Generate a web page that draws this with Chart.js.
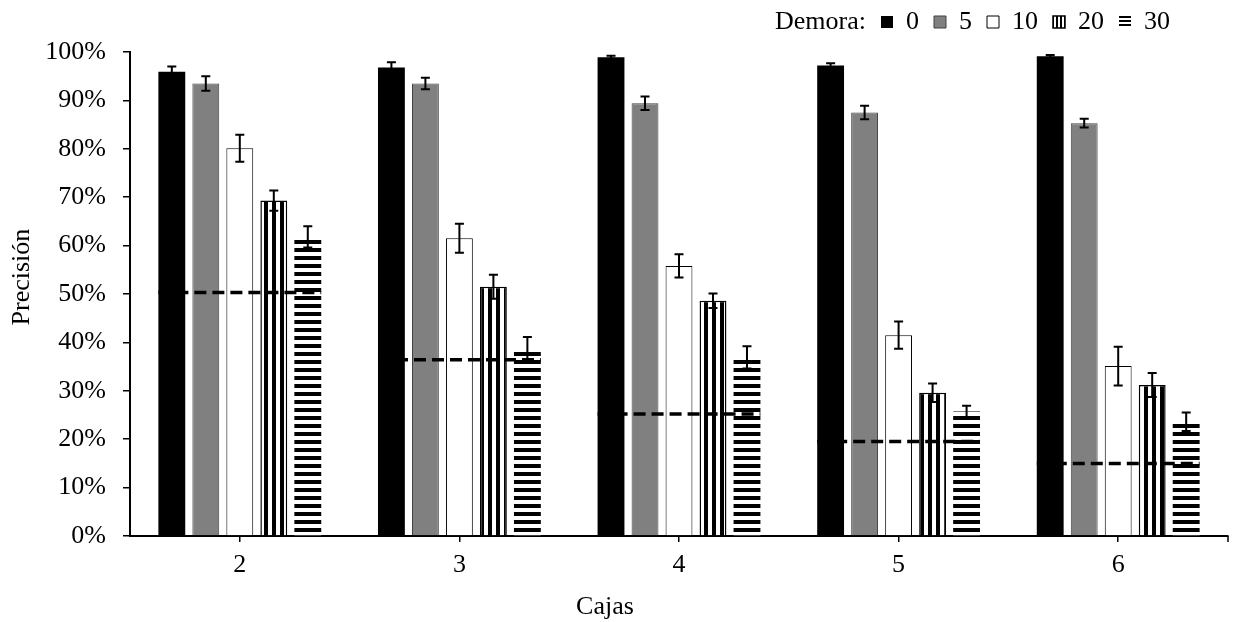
<!DOCTYPE html>
<html lang="es">
<head>
<meta charset="utf-8">
<title>Precisión por cajas y demora</title>
<script src="https://cdn.jsdelivr.net/npm/chart.js@4.4.1/dist/chart.umd.min.js"></script>
<style>
  html, body { margin: 0; padding: 0; background: #fff; }
</style>
</head>
<body>
<canvas id="myChart" width="1233" height="622"></canvas>
<script>
'use strict'

// Data (percent correct)
const cajas = ['2', '3', '4', '5', '6'];
const demoras = ['0', '5', '10', '20', '30'];
const yTicks = [0, 10, 20, 30, 40, 50, 60, 70, 80, 90, 100];

const prec0 = [95.9, 96.8, 98.9, 97.2, 99.1];
const prec5 = [93.5, 93.5, 89.4, 87.5, 85.3];
const prec10 = [80.1, 61.5, 55.8, 41.5, 35.1];
const prec20 = [69.3, 51.5, 48.6, 29.6, 31.2];
const prec30 = [61.8, 38.6, 36.9, 25.7, 23.6];

const err0 = [1.1, 1.1, 0.3, 0.5, 0.3];
const err5 = [1.5, 1.2, 1.4, 1.4, 0.9];
const err10 = [2.8, 3.0, 2.4, 2.8, 4.0];
const err20 = [2.1, 2.5, 1.5, 1.9, 2.5];
const err30 = [2.2, 2.5, 2.3, 1.2, 1.9];

// chance level (dashed line over each group)
const azar = [50.3, 36.4, 25.2, 19.5, 15.0];

const fontFamily = "'Liberation Serif', 'Times New Roman', serif";
const fontSize = 26;
Chart.defaults.color = '#000';
Chart.defaults.font.family = fontFamily;

// stripe fills
function makeStripes(vertical, period, ink) {
  const c = document.createElement('canvas');
  c.width = period;
  c.height = period;
  const ctx = c.getContext('2d');
  ctx.fillStyle = '#fff';
  ctx.fillRect(0, 0, period, period);
  ctx.fillStyle = '#000';
  if (vertical) {
    ctx.fillRect(0, 0, ink, period);
  } else {
    ctx.fillRect(0, 0, period, ink);
  }
  return ctx.createPattern(c, 'repeat');
}

const vStripes = makeStripes(true, 8, 4);
const hStripes = makeStripes(false, 8, 4);
const vStripesSmall = makeStripes(true, 4, 2);
const hStripesSmall = makeStripes(false, 4, 2);

function barSet(label, data, errs, fill, border, width) {
  return {
    label: label,
    data: data,
    errores: errs,
    backgroundColor: fill,
    borderColor: border,
    borderWidth: width,
    categoryPercentage: 0.774,
    barPercentage: 0.79
  };
}

const datasets = [
  barSet(demoras[0], prec0, err0, '#000000', '#000000', 0),
  barSet(demoras[1], prec5, err5, '#808080', '#404040', 1),
  barSet(demoras[2], prec10, err10, '#ffffff', '#000000', 1),
  barSet(demoras[3], prec20, err20, vStripes, '#000000', 1.5),
  barSet(demoras[4], prec30, err30, hStripes, '#000000', 0)
];

// dashed chance line across each group, then the error bars on top
const extras = {
  id: 'extras',
  afterDatasetsDraw(chart) {
    const ctx = chart.ctx;
    const y = chart.scales.y;
    const first = chart.getDatasetMeta(0).data;
    const last = chart.getDatasetMeta(demoras.length - 1).data;
    ctx.save();
    ctx.strokeStyle = '#000';

    ctx.lineWidth = 3.5;
    ctx.setLineDash([12, 6]);
    for (let i = 0; i < azar.length; i++) {
      const yy = y.getPixelForValue(azar[i]);
      ctx.beginPath();
      ctx.moveTo(first[i].x - first[i].width / 2, yy);
      ctx.lineTo(last[i].x + last[i].width / 2, yy);
      ctx.stroke();
    }
    ctx.setLineDash([]);

    ctx.lineWidth = 2;
    chart.data.datasets.forEach((ds, i) => {
      if (!ds.errores) return;
      const meta = chart.getDatasetMeta(i);
      meta.data.forEach((bar, j) => {
        const top = y.getPixelForValue(ds.data[j] + ds.errores[j]);
        const bot = y.getPixelForValue(ds.data[j] - ds.errores[j]);
        ctx.beginPath();
        ctx.moveTo(bar.x, top);
        ctx.lineTo(bar.x, bot);
        ctx.moveTo(bar.x - 4.5, top);
        ctx.lineTo(bar.x + 4.5, top);
        ctx.moveTo(bar.x - 4.5, bot);
        ctx.lineTo(bar.x + 4.5, bot);
        ctx.stroke();
      });
    });
    ctx.restore();
  },
  afterDraw(chart) {
    const ctx = chart.ctx;
    const x = chart.scales.x;
    const y = chart.scales.y;
    ctx.save();
    // closing tick at the right end of the category axis
    ctx.strokeStyle = '#000';
    ctx.lineWidth = 1.5;
    ctx.beginPath();
    ctx.moveTo(x.right, x.top);
    ctx.lineTo(x.right, x.top + 6);
    ctx.stroke();
    // axis titles, placed where the original has them
    ctx.fillStyle = '#000';
    ctx.font = fontSize + 'px ' + fontFamily;
    ctx.textAlign = 'center';
    ctx.textBaseline = 'middle';
    ctx.fillText('Cajas', x.left + x.width * 0.4326, 607);
    ctx.translate(22, y.top + y.height * 0.465);
    ctx.rotate(-Math.PI / 2);
    ctx.fillText('Precisión', 0, 0);
    ctx.restore();
  }
};

// legend up at the top right, like the original
const legendPlace = {
  id: 'legendPlace',
  afterLayout(chart) {
    chart.legend.top = -6;
    chart.legend.right = 1185;
  }
};

const config = {
  type: 'bar',
  data: {
    labels: cajas,
    datasets: datasets
  },
  options: {
    responsive: false,
    animation: false,
    layout: {
      padding: {left: 0, right: 5, top: 1, bottom: 0}
    },
    plugins: {
      tooltip: {enabled: false},
      legend: {
        position: 'top',
        align: 'end',
        labels: {
          boxWidth: 12,
          boxHeight: 12,
          padding: 15,
          color: '#000',
          font: {size: fontSize, family: fontFamily},
          generateLabels(chart) {
            let items = Chart.defaults.plugins.legend.labels.generateLabels(chart);
            items.forEach(it => {
              if (it.datasetIndex === 3) it.fillStyle = vStripesSmall;
              if (it.datasetIndex === 4) it.fillStyle = hStripesSmall;
            });
            items.unshift({
              text: 'Demora:',
              fillStyle: 'rgba(0,0,0,0)',
              strokeStyle: 'rgba(0,0,0,0)',
              lineWidth: 0,
              hidden: false,
              datasetIndex: -1
            });
            return items;
          }
        }
      }
    },
    scales: {
      x: {
        type: 'category',
        offset: true,
        grid: {
          drawOnChartArea: false,
          offset: false,
          color: '#000',
          lineWidth: 1.5,
          tickLength: 6
        },
        border: {color: '#000', width: 2},
        ticks: {
          padding: 8,
          font: {size: fontSize, family: fontFamily}
        },
        afterFit(scale) {
          scale.height = 86;
        }
      },
      y: {
        min: yTicks[0],
        max: yTicks[yTicks.length - 1],
        grid: {
          drawOnChartArea: false,
          color: '#000',
          lineWidth: 1.5,
          tickLength: 7
        },
        border: {color: '#000', width: 2},
        afterBuildTicks(scale) {
          scale.ticks = yTicks.map(v => ({value: v}));
        },
        ticks: {
          padding: 17,
          font: {size: fontSize, family: fontFamily},
          callback: v => v + '%'
        },
        afterFit(scale) {
          scale.width = 130;
        }
      }
    }
  },
  plugins: [extras, legendPlace]
};

let canvasChart = document.getElementById('myChart');
const myChart = new Chart(canvasChart, config);
</script>
</body>
</html>
